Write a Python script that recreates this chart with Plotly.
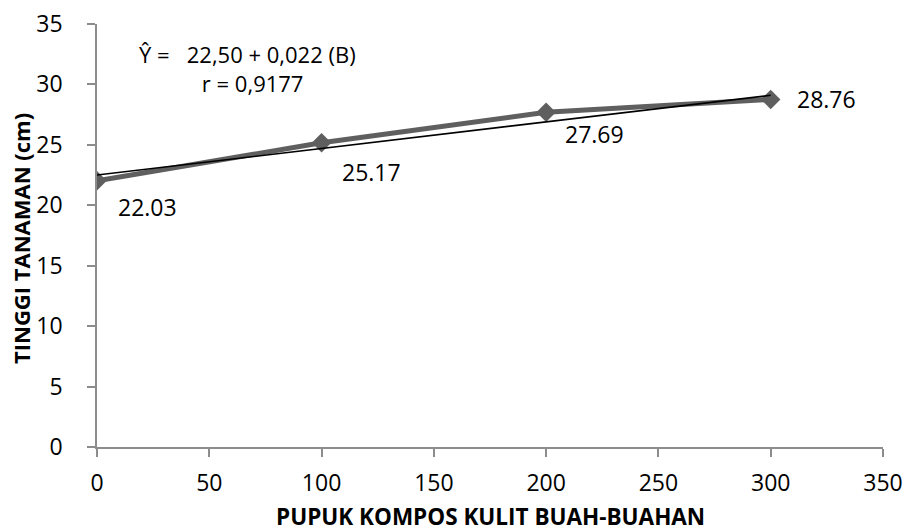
import plotly.graph_objects as go

# Data
dosis = [0, 100, 200, 300]
tinggi = [22.03, 25.17, 27.69, 28.76]
label_text = ["22.03", "25.17", "27.69", "28.76"]
trend_x = [0, 300]
trend_y = [22.50, 29.10]
x_ticks = [0, 50, 100, 150, 200, 250, 300, 350]
y_ticks = [0, 5, 10, 15, 20, 25, 30, 35]
equation_lines = ["Ŷ =   22,50 + 0,022 (B)", "r = 0,9177"]
x_title = "PUPUK KOMPOS KULIT BUAH-BUAHAN"
y_title = "TINGGI TANAMAN (cm)"

FONT = "Open Sans"
FS = 23

fig = go.Figure()
fig.add_trace(go.Scatter(
    x=dosis, y=tinggi, mode="lines+markers",
    line=dict(color="#5f5f5f", width=5),
    marker=dict(symbol="diamond", size=15, color="#5f5f5f"),
    showlegend=False, hoverinfo="x+y",
))
fig.add_trace(go.Scatter(
    x=trend_x, y=trend_y, mode="lines",
    line=dict(color="black", width=1.6),
    showlegend=False,
))

# data labels
offsets = [(50, -26), (50, -29), (48, -22), (56, 0)]
for xv, yv, t, (dx, dy) in zip(dosis, tinggi, label_text, offsets):
    fig.add_annotation(x=xv, y=yv, text=t, showarrow=False,
                       xshift=dx, yshift=dy,
                       font=dict(family=FONT, size=FS, color="black"))

eq_text = equation_lines[0] + "<br>" + "\u00a0" * 11 + equation_lines[1]
fig.add_annotation(xref="paper", yref="paper", x=(137-97)/786, y=(447-68.5)/423,
                   xanchor="left", yanchor="middle", align="left", showarrow=False,
                   text=eq_text,
                   font=dict(family=FONT, size=22, color="black"))

# axis titles
fig.add_annotation(xref="paper", yref="paper", x=0.5, y=(447-516)/423,
                   xanchor="center", yanchor="middle", showarrow=False,
                   text="<b>" + x_title + "</b>",
                   font=dict(family=FONT, size=22.5, color="black"))
fig.add_annotation(xref="paper", yref="paper", x=(21-97)/786, y=(447-239)/423,
                   xanchor="center", yanchor="middle", showarrow=False,
                   textangle=-90,
                   text="<b>" + y_title + "</b>",
                   font=dict(family=FONT, size=22, color="black"))

fig.update_layout(
    width=907, height=531,
    margin=dict(l=97, r=24, t=24, b=84),
    paper_bgcolor="white", plot_bgcolor="white",
    font=dict(family=FONT, size=FS, color="black"),
    xaxis=dict(
        range=[0, 350], tickvals=x_ticks, showgrid=False, zeroline=False,
        showline=True, linecolor="#8c8c8c", linewidth=1.5,
        ticks="outside", ticklen=8, tickcolor="#8c8c8c", tickwidth=1.5,
        tickfont=dict(family=FONT, size=FS, color="black"),
        ticklabelstandoff=7, automargin=False,
    ),
    yaxis=dict(
        range=[0, 35], tickvals=y_ticks, showgrid=False, zeroline=False,
        showline=True, linecolor="#8c8c8c", linewidth=1.5,
        ticks="outside", ticklen=8, tickcolor="#8c8c8c", tickwidth=1.5,
        tickfont=dict(family=FONT, size=FS, color="black"),
        ticklabelstandoff=20, automargin=False,
    ),
)

fig.write_html("out.html", config={"displayModeBar": False},
               post_script="document.body.style.margin='0';")
